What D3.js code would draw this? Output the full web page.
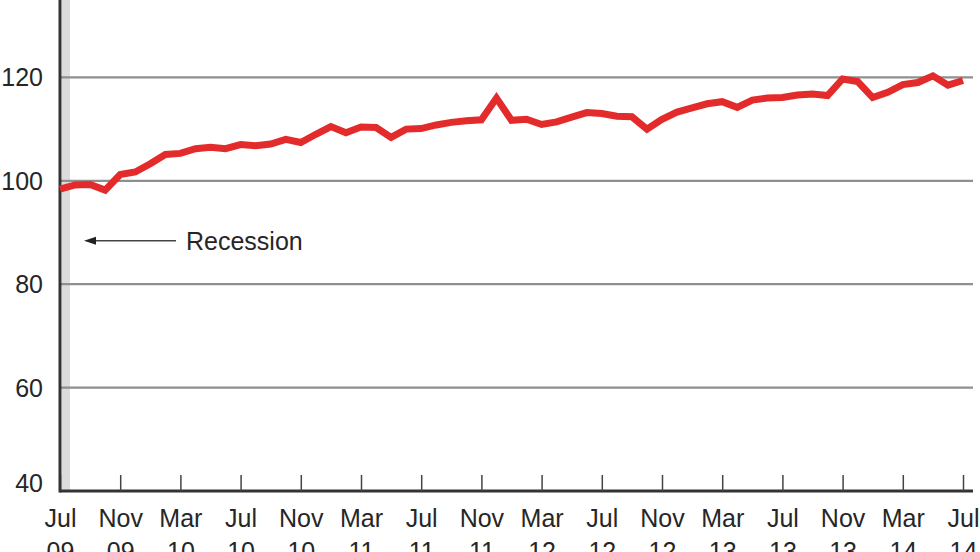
<!DOCTYPE html>
<html>
<head>
<meta charset="utf-8">
<script src="https://cdn.jsdelivr.net/npm/d3@7"></script>
<style>
  body { margin: 0; background: #fff; }
  svg { display: block; font-family: "Liberation Sans", Arial, sans-serif; }
</style>
</head>
<body>
<div id="chart"></div>
<script>
// monthly values, Jul 09 .. Jul 14
var values = [
  98.4, 99.2, 99.3, 98.2, 101.2, 101.7, 103.3, 105.1, 105.3, 106.2, 106.5, 106.2,
  107.0, 106.8, 107.1, 108.0, 107.4, 109.0, 110.5, 109.3, 110.4, 110.3, 108.4, 110.0,
  110.1, 110.8, 111.3, 111.6, 111.8, 116.0, 111.7, 111.9, 110.9, 111.4, 112.3, 113.2,
  113.0, 112.5, 112.4, 110.0, 111.9, 113.3, 114.1, 114.9, 115.3, 114.2, 115.6, 116.0,
  116.1, 116.6, 116.8, 116.5, 119.7, 119.2, 116.1, 117.1, 118.6, 119.0, 120.3, 118.5,
  119.4
];
var tickMonths = [0, 4, 8, 12, 16, 20, 24, 28, 32, 36, 40, 44, 48, 52, 56, 60];
var tickLabels = ["Jul 09", "Nov 09", "Mar 10", "Jul 10", "Nov 10", "Mar 11", "Jul 11", "Nov 11",
                  "Mar 12", "Jul 12", "Nov 12", "Mar 13", "Jul 13", "Nov 13", "Mar 14", "Jul 14"];
var yTicks = [40, 60, 80, 100, 120];
var recession = [0, 0.4];   // shaded band, in months from Jul 09
var recessionLabel = "Recession";

var width = 980, height = 552;
var left = 60, bottom = 491, right = 963, axisEnd = 973;
var fontSize = "25px";

var x = d3.scaleLinear().domain([0, 60]).range([left, right]);
var y = d3.scaleLinear().domain([40, 140]).range([bottom, -26]);

var svg = d3.select("#chart").append("svg")
    .attr("width", width)
    .attr("height", height);

// recession band
svg.append("rect")
    .attr("x", x(recession[0]) + 2)
    .attr("y", 0)
    .attr("width", x(recession[1]) - x(recession[0]) + 2)
    .attr("height", bottom)
    .attr("fill", "#dcdcdc");

// gridlines
svg.selectAll(".grid")
    .data(yTicks.filter(function(d) { return d > 40; }))
  .enter().append("line")
    .attr("class", "grid")
    .attr("x1", left)
    .attr("x2", axisEnd)
    .attr("y1", function(d) { return y(d); })
    .attr("y2", function(d) { return y(d); })
    .attr("stroke", "#8f8f8f")
    .attr("stroke-width", 2.2);

// y labels
svg.selectAll(".ylab")
    .data(yTicks)
  .enter().append("text")
    .attr("class", "ylab")
    .attr("x", 43)
    .attr("y", function(d) { return y(d) - (d == 40 ? 8 : 0); })
    .attr("dy", "0.36em")
    .attr("text-anchor", "end")
    .attr("fill", "#262626")
    .style("font-size", fontSize)
    .text(function(d) { return d; });

// x axis
var xAxis = d3.axisBottom(x)
    .tickValues(tickMonths)
    .tickSize(-16)
    .tickSizeOuter(0)
    .tickFormat(function(d, i) { return tickLabels[i]; });

var gx = svg.append("g")
    .attr("transform", "translate(0," + bottom + ")")
    .call(xAxis);
gx.select(".domain")
    .attr("d", "M" + left + ",0H" + axisEnd)
    .attr("stroke", "#333")
    .attr("stroke-width", 3);
gx.selectAll(".tick line")
    .attr("stroke", "#444")
    .attr("stroke-width", 1.5);
gx.selectAll(".tick text").each(function(d, i) {
  var parts = tickLabels[i].split(" ");
  var t = d3.select(this).text(null)
      .attr("y", null)
      .attr("dy", null)
      .attr("fill", "#262626")
      .style("font-size", fontSize)
      .style("font-family", "'Liberation Sans', Arial, sans-serif");
  t.append("tspan").attr("x", 0).attr("y", 36).text(parts[0]);
  t.append("tspan").attr("x", 0).attr("y", 69).text(parts[1]);
});

// y axis line
svg.append("line")
    .attr("x1", left).attr("x2", left)
    .attr("y1", 0).attr("y2", bottom + 1.5)
    .attr("stroke", "#333")
    .attr("stroke-width", 3);

// data line
var line = d3.line()
    .x(function(d, i) { return x(i); })
    .y(function(d) { return y(d); });

svg.append("path")
    .datum(values)
    .attr("d", line)
    .attr("fill", "none")
    .attr("stroke", "#e42b2b")
    .attr("stroke-width", 7)
    .attr("stroke-linejoin", "miter");

// recession annotation
var ay = y(88.4);
svg.append("line")
    .attr("x1", 92).attr("x2", 176)
    .attr("y1", ay).attr("y2", ay)
    .attr("stroke", "#444")
    .attr("stroke-width", 1.5);
svg.append("path")
    .attr("d", "M84," + ay + "L96," + (ay - 4) + "L96," + (ay + 4) + "Z")
    .attr("fill", "#222");
svg.append("text")
    .attr("x", 186)
    .attr("y", ay)
    .attr("dy", "0.36em")
    .attr("fill", "#262626")
    .style("font-size", fontSize)
    .text(recessionLabel);
</script>
</body>
</html>
